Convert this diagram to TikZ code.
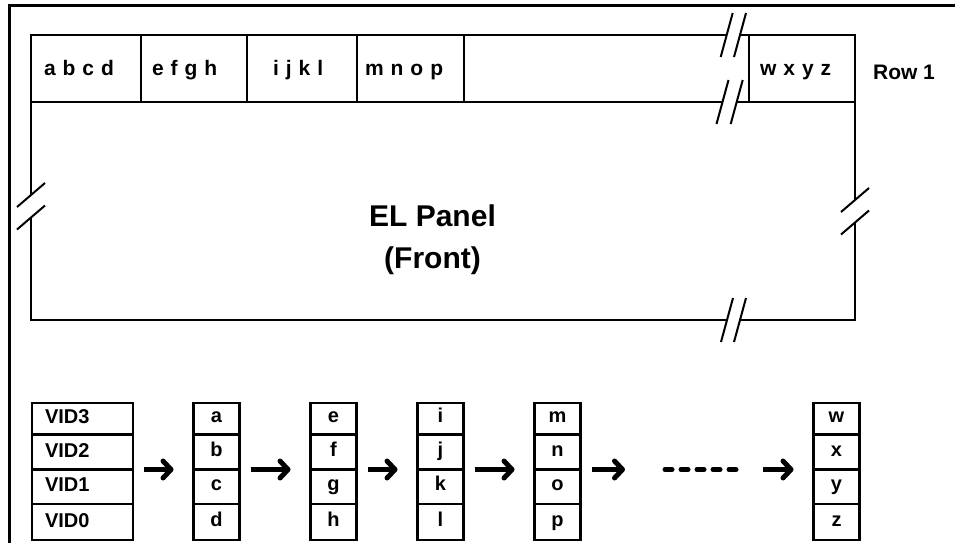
\documentclass[tikz,border=0pt]{standalone}
\usepackage{fontspec}
\setmainfont{Liberation Sans}
\usetikzlibrary{positioning,calc}
\usetikzlibrary{arrows.meta}

\tikzset{
  rowcell/.style={draw, line width=2.6pt, inner ysep=0pt, outer sep=0pt, minimum height=67pt,
    align=left, font=\bfseries\fontsize{21pt}{25pt}\selectfont, text height=15pt, text depth=2pt},
  bitcell/.style={draw, line width=2.6pt, inner sep=0pt, outer sep=0pt, minimum width=46pt,
    font=\bfseries\fontsize{20pt}{24pt}\selectfont, text height=13pt, text depth=5pt},
  vidcell/.style={draw, line width=2.6pt, inner ysep=0pt, inner xsep=13pt, outer sep=0pt,
    minimum width=101pt, text width=75pt, align=left,
    font=\bfseries\fontsize{20pt}{24pt}\selectfont, text height=13pt, text depth=3pt},
  panel/.style={line width=2.4pt},
  cutline/.style={line width=2pt},
  hcut/.pic={\draw[cutline] (-6,22) -- (6,-22);},
  vcut/.pic={\draw[cutline] (-14,12) -- (14,-12);},
  flow/.style={line width=5pt, -{Straight Barb[length=8pt,width=17pt,round]},
    shorten <=11pt, shorten >=20pt},
  more/.style={line width=5pt, line cap=round, dash pattern=on 7pt off 9pt}
}

\begin{document}
\begin{tikzpicture}[x=1pt,y=-1pt]
  \useasboundingbox (0,0) rectangle (955,543);
  \draw[line width=3pt] (955,6) -- (9,6) -- (9,543);

  % row 1
  \node[rowcell, minimum width=110pt, inner xsep=13pt, text width=84pt] at (86,68.5) (abcd) {a b c d};
  \node[rowcell, minimum width=106pt, inner xsep=11pt, text width=84pt] (efgh) [right=0pt of abcd] {e f g h};
  \node[rowcell, minimum width=110pt, inner xsep=26pt, text width=58pt] (ijkl) [right=0pt of efgh] {i j k l};
  \node[rowcell, minimum width=107pt, inner xsep=8pt, text width=91pt] (mnop) [right=0pt of ijkl] {m n o p};
  \node[rowcell, minimum width=106pt, inner xsep=11pt, text width=84pt] at (802,68.5) (wxyz) {w x y z};
  \node[font=\bfseries\fontsize{21pt}{25pt}\selectfont] at (904,72) (row) {Row 1};

  \draw[line width=2.6pt] (mnop.north east) -- (726.7,35);
  \draw[line width=2.6pt] (740,35) -- (wxyz.north west);
  \pic at (726.7,35) {hcut};
  \pic at (740,35) {hcut};

  % panel outline, broken
  \draw[panel] (31,195) -- (31,102) -- (722.5,102);
  \draw[panel] (736.7,102) -- (855,102) -- (855,200);
  \draw[panel] (855,222.5) -- (855,320) -- (740,320);
  \draw[panel] (727,320) -- (31,320) -- (31,217.5);
  \pic at (722.5,102) {hcut};
  \pic at (736.7,102) {hcut};
  \pic at (31,195) {vcut};
  \pic at (31,217.5) {vcut};
  \pic at (855,200) {vcut};
  \pic at (855,222.5) {vcut};
  \pic at (727,320) {hcut};
  \pic at (740,320) {hcut};

  \node[font=\bfseries\fontsize{30pt}{42pt}\selectfont, align=center] at (432.5,240) (elpanel) {EL Panel\\(Front)};

  % data columns
  \node[vidcell, minimum height=31.5pt] at (82.5,418.75) (vid3) {VID3};
  \node[vidcell, minimum height=35pt] (vid2) [below=0pt of vid3] {VID2};
  \node[vidcell, minimum height=34.5pt] (vid1) [below=0pt of vid2] {VID1};
  \node[vidcell, minimum height=36pt] (vid0) [below=0pt of vid1] {VID0};

  \foreach \cx/\la/\lb/\lc/\ld in {216.5/a/b/c/d, 333.5/e/f/g/h, 440.5/i/j/k/l, 557.5/m/n/o/p, 836.5/w/x/y/z} {
    \node[bitcell, minimum height=31.5pt] at (\cx,418.75) (bit-\la) {\la};
    \node[bitcell, minimum height=35pt] (bit-\lb) [below=0pt of bit-\la] {\lb};
    \node[bitcell, minimum height=34.5pt] (bit-\lc) [below=0pt of bit-\lb] {\lc};
    \node[bitcell, minimum height=36pt] (bit-\ld) [below=0pt of bit-\lc] {\ld};
  }

  \draw[flow] (vid2.south east) -- (bit-b.south west);
  \draw[flow] (bit-b.south east) -- (bit-f.south west);
  \draw[flow] (bit-f.south east) -- (bit-j.south west);
  \draw[flow] (bit-j.south east) -- (bit-n.south west);
  \coordinate (gap-l) at (665,469.5);
  \coordinate (gap-r) at (740,469.5);
  \draw[flow, shorten >=40pt] (bit-n.south east) -- (gap-l);
  \draw[more] (gap-l) -- (gap-r);
  \draw[flow, shorten <=23pt] (gap-r) -- (bit-x.south west);

\end{tikzpicture}
\end{document}
